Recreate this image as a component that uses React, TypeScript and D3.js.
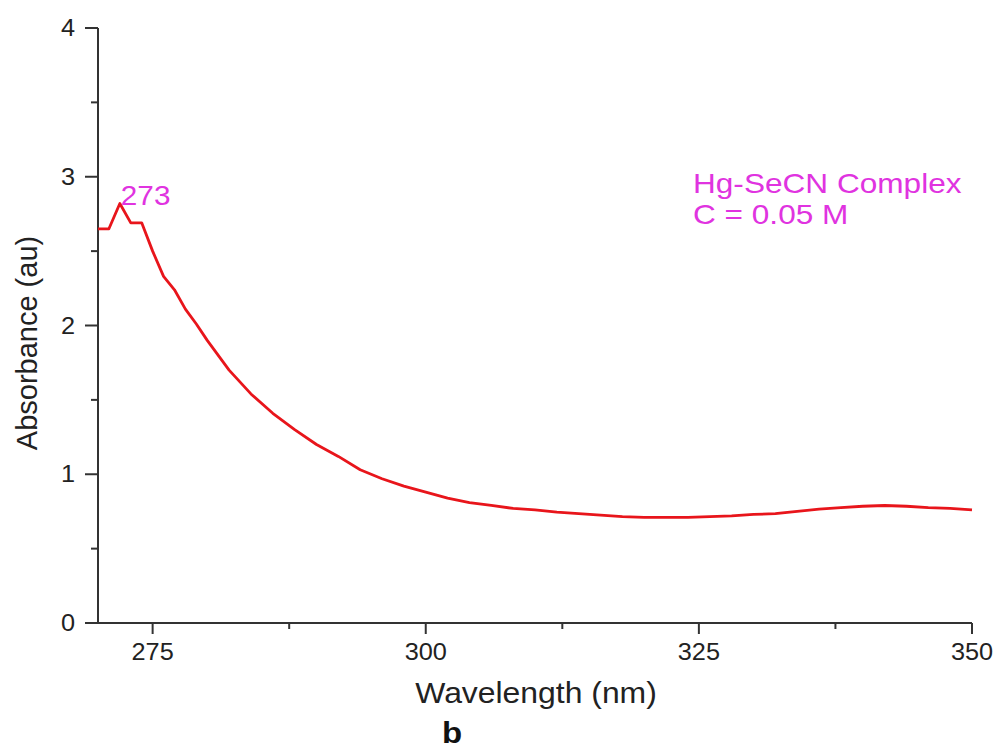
import React from "react";
import * as d3 from "d3";

const wavelength = [270, 271, 272, 273, 274, 275, 276, 277, 278, 279, 280, 282, 284, 286, 288, 290, 292, 294, 296, 298, 300, 302, 304, 306, 308, 310, 312, 314, 316, 318, 320, 322, 324, 326, 328, 330, 332, 334, 336, 338, 340, 342, 344, 346, 348, 350];
const absorbance = [2.65, 2.65, 2.82, 2.69, 2.69, 2.5, 2.33, 2.24, 2.11, 2.01, 1.9, 1.7, 1.54, 1.41, 1.3, 1.2, 1.12, 1.03, 0.97, 0.92, 0.88, 0.84, 0.81, 0.79, 0.77, 0.76, 0.745, 0.735, 0.725, 0.715, 0.71, 0.71, 0.71, 0.715, 0.72, 0.73, 0.735, 0.75, 0.765, 0.775, 0.785, 0.79, 0.785, 0.775, 0.77, 0.76];
const xTicks = [275, 300, 325, 350];
const xMinorTicks = [287.5, 312.5, 337.5];
const yTicks = [0, 1, 2, 3, 4];
const yMinorTicks = [0.5, 1.5, 2.5, 3.5];
const peakLabel = "273";
const peakWavelength = 272;
const annotation = ["Hg-SeCN Complex", "C = 0.05 M"];

const W = 997;
const H = 749;
const font = "'Liberation Sans', Arial, sans-serif";
const axisColor = "#333";
const magenta = "#e033e0";
const SX = 1.1;

function T({ x, y, anchor = "start", size, fill, weight = "normal", sx = SX, children }: any) {
  return (
    <text
      transform={`translate(${x},${y}) scale(${sx},1)`}
      textAnchor={anchor}
      fontSize={size}
      fill={fill}
      fontWeight={weight}
    >
      {children}
    </text>
  );
}

export default function App() {
  const x = d3.scaleLinear().domain([270, 350]).range([98, 972]);
  const y = d3.scaleLinear().domain([0, 4]).range([623, 28]);
  const data = wavelength.map((w, i) => ({ w, a: absorbance[i] }));
  const line = d3
    .line<{ w: number; a: number }>()
    .x((d) => x(d.w))
    .y((d) => y(d.a));

  return (
    <svg
      width={W}
      height={H}
      style={{ position: "absolute", left: 0, top: 0, background: "#fff" }}
      fontFamily={font}
    >
      {/* axes */}
      <line x1={x(270)} x2={x(270)} y1={y(4)} y2={y(0)} stroke={axisColor} strokeWidth={2} />
      <line x1={x(270) - 13} x2={x(350)} y1={y(0)} y2={y(0)} stroke={axisColor} strokeWidth={2} />
      {yTicks.map((t) => (
        <g key={"y" + t}>
          <line x1={x(270) - 13} x2={x(270)} y1={y(t)} y2={y(t)} stroke={axisColor} strokeWidth={2} />
          <T x={x(270) - 23} y={y(t) + 8} anchor="end" size={23} fill="#222">
            {t}
          </T>
        </g>
      ))}
      {yMinorTicks.map((t) => (
        <line key={"ym" + t} x1={x(270) - 7} x2={x(270)} y1={y(t)} y2={y(t)} stroke={axisColor} strokeWidth={2} />
      ))}
      {xTicks.map((t) => (
        <g key={"x" + t}>
          <line x1={x(t)} x2={x(t)} y1={y(0)} y2={y(0) + 11} stroke={axisColor} strokeWidth={2} />
          <T x={x(t)} y={y(0) + 37} anchor="middle" size={23} fill="#222">
            {t}
          </T>
        </g>
      ))}
      {xMinorTicks.map((t) => (
        <line key={"xm" + t} x1={x(t)} x2={x(t)} y1={y(0)} y2={y(0) + 6} stroke={axisColor} strokeWidth={2} />
      ))}

      {/* axis titles */}
      <T x={536} y={703} anchor="middle" size={29} fill="#222">
        Wavelength (nm)
      </T>
      <T x={452} y={743} anchor="middle" size={30} weight="bold" fill="#111">
        b
      </T>
      <text
        transform={`translate(37, 343) rotate(-90)`}
        textAnchor="middle"
        fontSize={29}
        fill="#222"
      >
        Absorbance (au)
      </text>

      {/* curve */}
      <path d={line(data) || ""} fill="none" stroke="#e8151b" strokeWidth={2.8} strokeLinejoin="round" />

      {/* annotations */}
      <T x={x(peakWavelength) + 1} y={205} size={27} fill={magenta}>
        {peakLabel}
      </T>
      {annotation.map((s, i) => (
        <T key={s} x={693} y={193 + i * 31} size={27} sx={1.17} fill={magenta}>
          {s}
        </T>
      ))}
    </svg>
  );
}
